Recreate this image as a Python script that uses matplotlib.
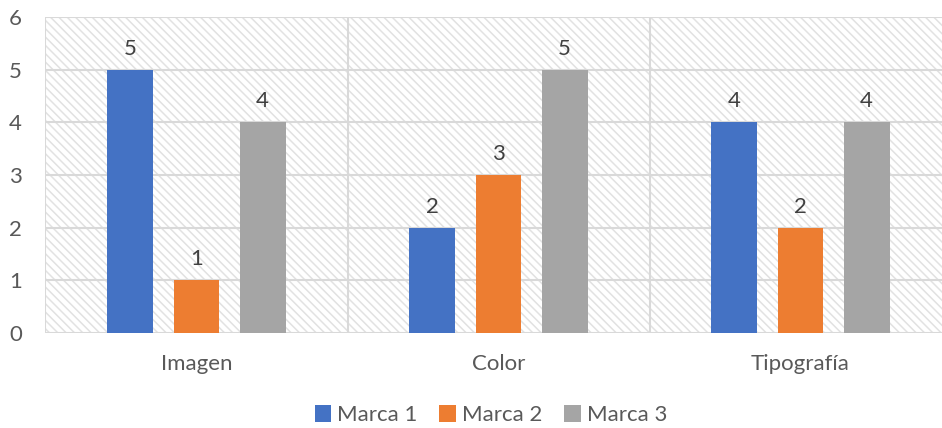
import matplotlib
matplotlib.use("Agg")
import matplotlib.pyplot as plt
import numpy as np
from matplotlib.patches import Rectangle

categories = ["Imagen", "Color", "Tipografía"]
series_names = ["Marca 1", "Marca 2", "Marca 3"]
marca1 = [5, 2, 4]
marca2 = [1, 3, 2]
marca3 = [4, 5, 4]
colors = ["#4472C4", "#ED7D31", "#A5A5A5"]
y_ticks = [0, 1, 2, 3, 4, 5, 6]

plt.rcParams["font.family"] = ["Lato", "DejaVu Sans"]
plt.rcParams["hatch.linewidth"] = 1.1
text_color = "#595959"
grid_color = "#d9d9d9"

fig = plt.figure(figsize=(9.42, 4.28), dpi=100)
ax = fig.add_axes([0.0483, 0.222, 0.9618, 0.738])

# hatched plot-area background
bg = Rectangle((0, 0), 1, 1, transform=ax.transAxes, facecolor="white",
               edgecolor="#e2e2e2", hatch="\\\\\\\\", linewidth=0, zorder=0)
ax.add_patch(bg)

x = np.arange(len(categories))
width = 0.152
step = 0.219
for i, (vals, name, c) in enumerate(zip([marca1, marca2, marca3], series_names, colors)):
    pos = x + (i - 1) * step
    bars = ax.bar(pos, vals, width, color=c, label=name, zorder=3)
    for b, v in zip(bars, vals):
        ax.annotate(str(v), (b.get_x() + b.get_width() / 2, v),
                    xytext=(0, 8), textcoords="offset points", ha="center",
                    va="bottom", fontsize=16, color="#404040", zorder=4)

ax.set_xlim(-0.5, len(categories) - 0.5)
ax.set_ylim(0, 6)
ax.set_yticks(y_ticks)
ax.set_xticks(x)
ax.set_xticklabels(categories)

for yv in y_ticks:
    ax.axhline(yv, color=grid_color, linewidth=1.5, zorder=1)
for xv in np.arange(-0.5, len(categories), 1.0):
    ax.axvline(xv, color=grid_color, linewidth=1.5, zorder=1)

for s in ax.spines.values():
    s.set_visible(False)
ax.tick_params(axis="both", length=0, labelsize=16, colors=text_color)
ax.tick_params(axis="x", pad=15)
ax.tick_params(axis="y", pad=17)

leg = fig.legend(loc="lower center", bbox_to_anchor=(0.521, -0.04), ncol=3,
                 frameon=False, fontsize=16, handlelength=0.75, handleheight=0.75,
                 handletextpad=0.25, columnspacing=1.0)
for t in leg.get_texts():
    t.set_color(text_color)

fig.savefig("out.png", dpi=100)
